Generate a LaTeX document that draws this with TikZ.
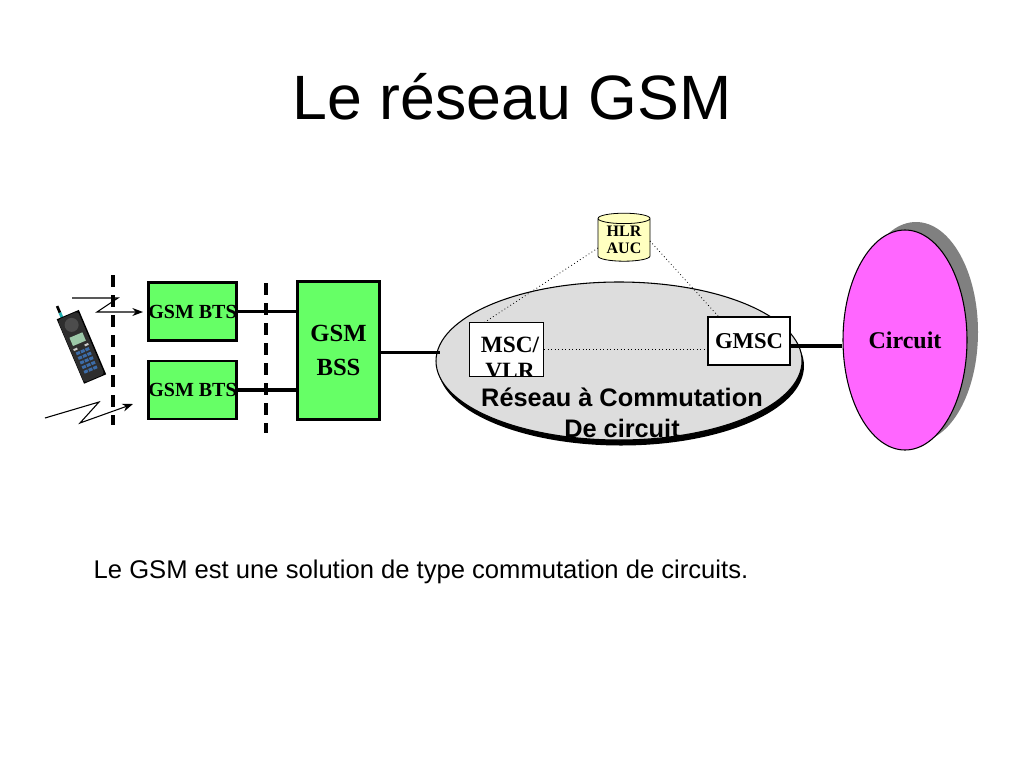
\documentclass[tikz,border=0pt]{standalone}
\usepackage{fontspec}
\setmainfont{Liberation Serif}
\newfontfamily\arialf{Liberation Sans}
\usetikzlibrary{shapes.geometric,backgrounds,calc,arrows.meta}
\definecolor{boxgreen}{HTML}{66FF66}
\definecolor{shadowgray}{HTML}{808080}
\definecolor{netgray}{HTML}{DDDDDD}
\definecolor{circmag}{HTML}{FF66FF}
\definecolor{hlryellow}{HTML}{FFFFC0}
\definecolor{phonebody}{HTML}{2E2E2E}
\definecolor{phonescreen}{HTML}{9CC8A8}
\definecolor{phonekey}{HTML}{3C6CA8}
\definecolor{phoneteal}{HTML}{20B0B0}
\tikzset{
  greenbox/.style={draw=black, line width=2.2pt, fill=boxgreen, inner sep=0pt, font=\bfseries},
  whitebox/.style={draw=black, line width=0.8pt, fill=white, inner sep=0pt, font=\bfseries},
  thickline/.style={line width=2.4pt},
  dottedline/.style={line width=0.6pt, dotted},
  sepline/.style={line width=2.4pt, dash pattern=on 9pt off 6pt},
  bolt/.style={line width=0.8pt, -{Stealth[length=8pt,width=6pt]}},
  nettextstyle/.style={font=\arialf\bfseries\fontsize{19}{24}\selectfont, anchor=base},
  msctextstyle/.style={font=\bfseries\fontsize{17.5}{20}\selectfont, anchor=base},
}
\begin{document}
\begin{tikzpicture}[x=0.75pt,y=-0.75pt]
\useasboundingbox (0,0) rectangle (1024,768);
\fill[white] (0,0) rectangle (1024,768);

% title
\node[font=\arialf\fontsize{47}{56}\selectfont, anchor=base] (title) at (512,119) {Le réseau GSM};

% separator dashed lines
\coordinate (s1a) at (113,275);
\coordinate (s1b) at (113,425);
\coordinate (s2a) at (266,283);
\coordinate (s2b) at (266,433);
\draw[sepline] (s1a) -- (s1b);
\draw[sepline] (s2a) -- (s2b);

% BTS and BSS boxes
\node[greenbox, minimum width=65.5pt, minimum height=43.5pt, font=\bfseries\fontsize{15}{17}\selectfont] (bts1) at (192.5,311.5) {GSM BTS};
\node[greenbox, minimum width=65.5pt, minimum height=43.5pt, font=\bfseries\fontsize{15}{17}\selectfont] (bts2) at (192.5,390) {GSM BTS};
\node[greenbox, minimum width=61pt, minimum height=103pt, align=center, font=\bfseries\fontsize{18.5}{26}\selectfont] (bss) at (338.5,350.5) {GSM\\BSS};
\begin{scope}[on background layer]
  \fill[shadowgray] ($(bts1.south west)+(8,-8)$) rectangle ($(bts1.north east)+(9,-10)$);
  \fill[shadowgray] ($(bts2.south west)+(8,-8)$) rectangle ($(bts2.north east)+(9,-10)$);
  \fill[shadowgray] ($(bss.south west)+(8,-8)$) rectangle ($(bss.north east)+(9,-10)$);
\end{scope}

% links BTS - BSS
\draw[thickline] (bts1.east) -- (bts1.east -| bss.west);
\draw[thickline] (bts2.east) -- (bts2.east -| bss.west);

% circuit-switched network ellipse
\fill[black] (621,366) ellipse (183 and 79.5);
\node[ellipse, draw=black, line width=0.8pt, fill=netgray, minimum width=274.5pt, minimum height=118.5pt, inner sep=0pt] (net) at (619,361) {};
\node[nettextstyle] (nettext1) at (622,406) {Réseau à Commutation};
\node[nettextstyle] (nettext2) at (622,437) {De circuit};

% MSC/VLR and GMSC
\node[whitebox, minimum width=56pt, minimum height=40pt] (msc) at (506.5,349.5) {};
\begin{scope}
  \clip (msc.south west) rectangle (msc.north east);
  \node[msctextstyle] (msctext1) at (510,352) {MSC/};
  \node[msctextstyle] (msctext2) at (510,378) {VLR};
\end{scope}
\node[whitebox, minimum width=61.5pt, minimum height=36pt, font=\bfseries\fontsize{17}{20}\selectfont] (gmsc) at (749,341) {GMSC};
\draw[dottedline] (msc.east) -- (msc.east -| gmsc.west);

% HLR / AUC
\node[cylinder, shape border rotate=90, aspect=0.3, draw=black, line width=0.6pt, fill=hlryellow, minimum width=39pt, minimum height=36pt, inner sep=0pt, align=center, font=\bfseries\fontsize{12}{13}\selectfont] (hlr) at (624,240) {HLR\\AUC};
\draw[dottedline] ($(hlr.center)+(-26,8)$) -- ($(msc.north west)+(16,0)$);
\draw[dottedline] ($(hlr.center)+(26,1)$) -- ($(gmsc.north west)+(11,0)$);

% link BSS - network
\draw[thickline] ($(bss.east)+(0,2)$) -- ++(59,0);

% Circuit ellipse
\fill[shadowgray] (916,332) ellipse (62 and 110);
\node[ellipse, draw=black, line width=0.8pt, fill=circmag, minimum width=93pt, minimum height=165pt, inner sep=0pt, font=\bfseries\fontsize{18}{20}\selectfont] (circ) at (905,340) {Circuit};
\draw[thickline] ($(gmsc.east)+(0,5)$) coordinate (g1) -- (g1 -| circ.west);

% radio links
\draw[bolt] (72,298) -- (118,298) -- (97,312) -- (143,312);
\draw[bolt] (45,418) -- (99,402) -- (80,423) -- (133,404);

% phone
\begin{scope}[shift={(81,347)}, rotate=23]
  \draw[line width=2.2pt, phoneteal] (-6,-34) -- (-6,-40);
  \draw[line width=2pt, black] (-6,-40) -- (-6,-47);
  \fill[black] (-11.5,-35) rectangle (12.5,35);
  \fill[phonebody, rounded corners=2pt] (-11,-34) rectangle (11,34);
  \fill[black!70] (0,-24) circle (7);
  \fill[phonescreen] (-7,-13) rectangle (7,-4);
  \foreach \r in {0,...,4} {
    \foreach \c in {-1,0,1} {
      \fill[phonekey] ($(\c*5,3+\r*5)+(-2,0)$) rectangle ++(4,3);
    }
  }
  \fill[white!80!black] (-8,-1) rectangle (-4,1);
  \fill[white!80!black] (4,-1) rectangle (8,1);
\end{scope}

% caption
\node[font=\arialf\fontsize{19.2}{23}\selectfont, anchor=base west] (caption) at (89,578) {Le GSM est une solution de type commutation de circuits.};
\end{tikzpicture}
\end{document}
